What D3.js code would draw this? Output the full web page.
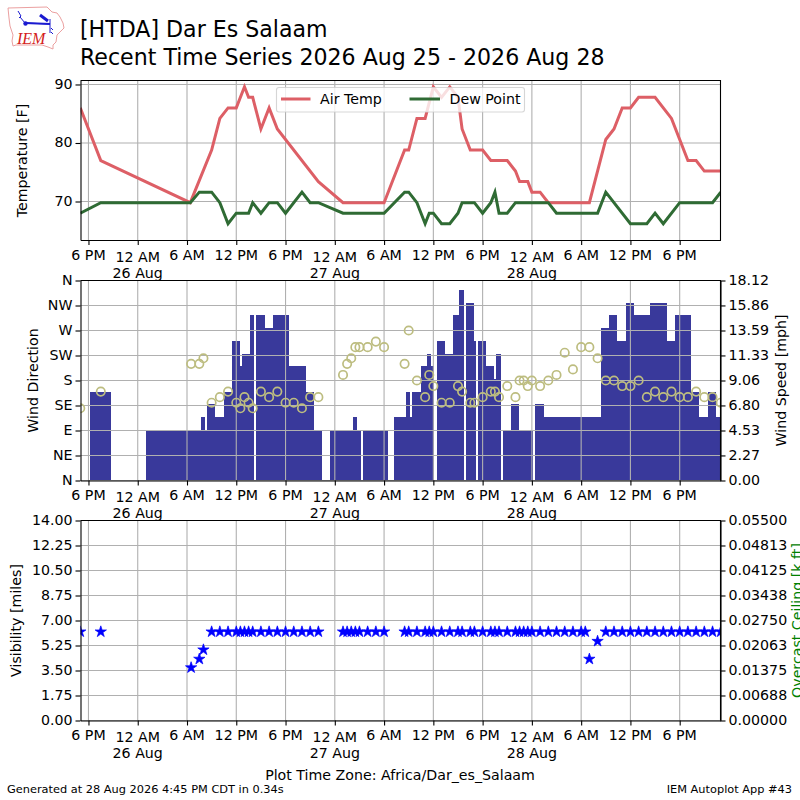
<!DOCTYPE html>
<html>
<head>
<meta charset="utf-8">
<script src="https://cdn.jsdelivr.net/npm/d3@7"></script>
<style>
  html, body { margin: 0; padding: 0; background: #fff; }
  text { font-family: "DejaVu Sans", sans-serif; fill: #000; }
</style>
</head>
<body>
<div id="chart"></div>
<script>
// every time below is hours after 00:00 on 25 Aug 2026, plot time zone
const tempTimes = [17,19.5,30.4,33,34,35,36,37,37.5,38,39,40,41,46,49,54,56.5,57,58,59,60,61,62,63,63.5,64.5,66,67,69,70,70.5,71.5,72,73,74,79,81,82,83,84,85,87,89,91,92,93,95]
const airTemp = [86,77,69.8,78.8,84.2,86,86,89.6,87.8,87.8,82.4,86,82.4,73.4,69.8,69.8,78.8,78.8,84.2,84.2,89.6,87.8,89.6,87.8,82.4,78.8,78.8,77,77,75.2,73.4,73.4,71.6,71.6,69.8,69.8,80.6,82.4,86,86,87.8,87.8,84.2,77,77,75.2,75.2]

const dewTimes = [17,19.5,30.4,31.5,33,34,35,36,37.5,38,39,40,41,42,44,45,46,49,54,56.5,57,58,59,59.5,60,61,62,63,63.5,65,66,67,67.5,68,69,70,74,75,80,81,84,86,87,88,90,94,95]
const dewPoint = [68,69.8,69.8,71.6,71.6,69.8,66.2,68,68,69.8,68,69.8,69.8,68,71.6,69.8,69.8,68,68,71.6,71.6,69.8,66.2,68,68,66.2,66.2,68,69.8,69.8,68,69.8,71.6,68,68,69.8,69.8,68,68,71.6,66.2,66.2,68,66.2,69.8,69.8,71.6]

const barStart = [18.18,25,31.7,32.19,32.43,33.41,34.5,35.48,36.45,36.7,37.67,38.4,39.5,40.47,42.42,44.49,45.46,47.41,50.2,50.7,51.43,55.21,56.67,57.16,57.4,58.5,59.23,59.72,60.45,61.42,62.4,63.13,63.98,64.95,65.44,66.41,67.39,67.63,68.48,69.46,70.43,72.38,73.48,80.42,81.4,82.37,83.47,84.44,86.39,88.46,89.43,91.38,92.36,93.45,94.43]
const barEnd = [20.74,31.7,32.19,32.43,33.41,34.5,35.48,36.45,36.7,37.67,38.16,39.5,40.47,42.42,44.49,45.46,46.44,50.2,50.7,51.19,54.48,56.67,57.16,57.4,58.5,59.23,59.72,60.02,61.42,62.4,63.13,63.74,64.95,65.2,66.41,67.39,67.63,68.24,69.46,70.43,72.14,73.48,80.42,81.4,82.37,83.47,84.44,86.39,88.46,89.43,91.38,92.36,93.45,94.43,95]
const windSpeed = [8.06,4.6,5.75,4.6,6.9,5.75,8.06,12.66,10.36,11.5,14.97,14.97,13.8,14.97,10.36,8.06,4.6,4.6,5.75,4.6,4.6,5.75,8.06,5.75,8.06,10.36,11.5,10.36,12.66,11.5,14.97,17.27,16.11,12.66,12.66,10.36,9.21,11.5,4.6,6.9,4.6,6.9,5.75,13.8,14.97,12.66,16.11,14.97,16.11,12.66,14.97,8.06,5.75,8.06,5.75]

const dirTimes = [17,19.5,30.5,31.5,32,33,34,35,36,36.5,37,37.5,38,39,40,41,42,43,44,45,46,49,49.5,50,50.5,51,52,53,54,56.5,57,58,59,59.5,60,61,62,63,63.5,64.5,65,66,67,67.5,68,69,70,70.5,71,71.5,72,73,74,75,76,77,78,79,80,81,82,83,84,85,86,87,88,89,90,91,92,93,94,95]
const windDir = [130,160,210,210,220,140,150,160,140,130,150,140,130,160,150,160,140,140,130,150,150,190,210,220,240,240,240,250,240,210,270,180,150,190,170,140,140,170,160,140,140,150,160,160,150,170,150,180,180,170,180,170,180,190,230,200,240,240,220,180,180,170,170,180,150,160,150,160,150,150,160,150,150,140]

const visTimes = [17,19.5,30.5,31.5,32,33,34,35,36,36.5,37,37.5,38,39,40,41,42,43,44,45,46,49,49.5,50,50.5,51,52,53,54,56.5,57,58,59,59.5,60,61,62,63,63.5,64.5,65,66,67,67.5,68,69,70,70.5,71,71.5,72,73,74,75,76,77,78,78.5,79,80,81,82,83,84,85,86,87,88,89,90,91,92,93,94,95]
const visibility = [6.21,6.21,3.7,4.3,4.95,6.21,6.21,6.21,6.21,6.21,6.21,6.21,6.21,6.21,6.21,6.21,6.21,6.21,6.21,6.21,6.21,6.21,6.21,6.21,6.21,6.21,6.21,6.21,6.21,6.21,6.21,6.21,6.21,6.21,6.21,6.21,6.21,6.21,6.21,6.21,6.21,6.21,6.21,6.21,6.21,6.21,6.21,6.21,6.21,6.21,6.21,6.21,6.21,6.21,6.21,6.21,6.21,6.21,4.3,5.55,6.21,6.21,6.21,6.21,6.21,6.21,6.21,6.21,6.21,6.21,6.21,6.21,6.21,6.21,6.21]

const timeTicks = [18,24,30,36,42,48,54,60,66,72,78,84,90]
const timeLabels = ['6 PM','12 AM','6 AM','12 PM','6 PM','12 AM','6 AM','12 PM','6 PM','12 AM','6 AM','12 PM','6 PM']
const dateLabels = {24: '26 Aug', 48: '27 Aug', 72: '28 Aug'}
const tempTicks = [70,80,90]
const dirTicks = [0,45,90,135,180,225,270,315,360]
const dirLabels = ['N','NE','E','SE','S','SW','W','NW','N']
const speedTicks = [0,2.27,4.53,6.8,9.06,11.33,13.59,15.86,18.12]
const visTicks = [0,1.75,3.5,5.25,7,8.75,10.5,12.25,14]
const ceilTicks = [0,0.00688,0.01375,0.02063,0.0275,0.03438,0.04125,0.04813,0.055]

const width = 800,
      height = 800,
      left = 80.5,
      right = 720.5,
      fontSize = 14.2

const svg = d3.select('#chart').append('svg')
              .attr('width', width)
              .attr('height', height)
              .style('display', 'block')

const xScale = d3.scaleLinear().domain([17.03, 94.97]).range([left, right])

const tempScale = d3.scaleLinear().domain([63.42, 90.68]).range([240, 80.5]),
      dirScale = d3.scaleLinear().domain([0, 360]).range([480.5, 280.5]),
      speedScale = d3.scaleLinear().domain([0, 18.12]).range([480.5, 280.5]),
      visScale = d3.scaleLinear().domain([0, 14]).range([720.5, 520.5]),
      ceilScale = d3.scaleLinear().domain([0, 0.055]).range([720.5, 520.5])

function styleAxis(g) {
  g.selectAll('path, line').attr('stroke', '#000').attr('stroke-width', 1.1)
  g.selectAll('text').attr('font-size', fontSize).attr('fill', '#000')
}

function panel(id, yScale, yTicks, yFormat) {
  const [bottom, top] = yScale.range()
  svg.append('clipPath').attr('id', 'clip-' + id)
     .append('rect')
     .attr('x', left).attr('y', top)
     .attr('width', right - left).attr('height', bottom - top)

  const back = svg.append('g').attr('class', 'back')
  const grid = svg.append('g').attr('class', 'grid')
  grid.selectAll('.gx').data(timeTicks).enter().append('line')
      .attr('x1', d => xScale(d)).attr('x2', d => xScale(d))
      .attr('y1', top).attr('y2', bottom)
  grid.selectAll('.gy').data(yTicks).enter().append('line')
      .attr('x1', left).attr('x2', right)
      .attr('y1', d => yScale(d)).attr('y2', d => yScale(d))
  grid.selectAll('line').attr('stroke', '#b0b0b0').attr('stroke-width', 1.1)

  const marks = svg.append('g').attr('clip-path', 'url(#clip-' + id + ')')

  const xAxis = d3.axisBottom(xScale)
                  .tickValues(timeTicks)
                  .tickSize(5)
                  .tickSizeOuter(0)
                  .tickFormat((d, i) => timeLabels[i])
  const gx = svg.append('g')
                .attr('transform', 'translate(0,' + bottom + ')')
                .call(xAxis)
  styleAxis(gx)
  gx.selectAll('.tick text')
    .attr('dy', null)
    .attr('x', -0.5)
    .attr('y', d => dateLabels[d] ? 21.5 : 19.5)
  gx.selectAll('.tick').filter(d => dateLabels[d])
    .append('text')
    .attr('x', -0.5)
    .attr('y', 37.5)
    .attr('text-anchor', 'middle')
    .attr('font-size', fontSize)
    .text(d => dateLabels[d])

  const gy = svg.append('g')
                .attr('transform', 'translate(' + left + ',0)')
                .call(d3.axisLeft(yScale).tickValues(yTicks).tickSize(5).tickSizeOuter(0).tickFormat(yFormat))
  styleAxis(gy)
  gy.selectAll('.tick text').attr('dy', '0.27em')

  // top and right frame lines
  svg.append('path')
     .attr('d', 'M' + left + ',' + top + 'H' + right + 'V' + bottom)
     .attr('fill', 'none').attr('stroke', '#000').attr('stroke-width', 1.1)
  return { back, marks }
}

function rightAxis(scale, ticks, format) {
  const g = svg.append('g')
               .attr('transform', 'translate(' + right + ',0)')
               .call(d3.axisRight(scale).tickValues(ticks).tickSize(5).tickSizeOuter(0).tickFormat(format))
  styleAxis(g)
  g.selectAll('.tick text').attr('dy', '0.27em')
}

function vLabel(text, x, y, color) {
  svg.append('text')
     .attr('transform', 'translate(' + x + ',' + y + ') rotate(-90)')
     .attr('text-anchor', 'middle')
     .attr('font-size', fontSize)
     .style('fill', color || '#000')
     .text(text)
}

// temperature
const p1 = panel('temp', tempScale, tempTicks, d => d)
const airLine = d3.line().x((d, i) => xScale(tempTimes[i])).y(d => tempScale(d))
const dewLine = d3.line().x((d, i) => xScale(dewTimes[i])).y(d => tempScale(d))
p1.marks.append('path').attr('d', airLine(airTemp))
        .attr('fill', 'none').attr('stroke', '#dd5f66').attr('stroke-width', 3)
p1.marks.append('path').attr('d', dewLine(dewPoint))
        .attr('fill', 'none').attr('stroke', '#2f6b34').attr('stroke-width', 3)
vLabel('Temperature [F]', 27, 160.5)

// legend
const legend = svg.append('g')
legend.append('rect')
      .attr('x', 276.5).attr('y', 87.5).attr('width', 248).attr('height', 24.5)
      .attr('rx', 2.5)
      .attr('fill', '#fff').attr('fill-opacity', 0.8)
      .attr('stroke', '#ccc').attr('stroke-opacity', 0.8).attr('stroke-width', 1.1)
legend.append('line').attr('x1', 281).attr('x2', 310.5).attr('y1', 99).attr('y2', 99)
      .attr('stroke', '#dd5f66').attr('stroke-width', 3)
legend.append('text').attr('x', 320).attr('y', 104).attr('font-size', fontSize).text('Air Temp')
legend.append('line').attr('x1', 409.5).attr('x2', 440).attr('y1', 99).attr('y2', 99)
      .attr('stroke', '#2f6b34').attr('stroke-width', 3)
legend.append('text').attr('x', 449.5).attr('y', 104).attr('font-size', fontSize).text('Dew Point')

// wind
const p2 = panel('wind', dirScale, dirTicks, (d, i) => dirLabels[i])
p2.back.attr('clip-path', 'url(#clip-wind)')
p2.back.selectAll('rect').data(windSpeed).enter().append('rect')
       .attr('x', (d, i) => xScale(barStart[i]))
       .attr('width', (d, i) => xScale(barEnd[i]) - xScale(barStart[i]))
       .attr('y', d => speedScale(d))
       .attr('height', d => speedScale(0) - speedScale(d))
       .attr('fill', '#39399b')
       .attr('shape-rendering', 'crispEdges')
p2.marks.selectAll('circle').data(windDir).enter().append('circle')
        .attr('cx', (d, i) => xScale(dirTimes[i]))
        .attr('cy', d => dirScale(d))
        .attr('r', 4.2)
        .attr('fill', 'none')
        .attr('stroke', '#bdbd80')
        .attr('stroke-width', 1.7)
rightAxis(speedScale, speedTicks, d => d.toFixed(2))
vLabel('Wind Direction', 38, 380.5)
vLabel('Wind Speed [mph]', 786, 380.5)

// visibility
const p3 = panel('vis', visScale, visTicks, d => d.toFixed(2))
const star = d3.symbol().type(d3.symbolStar).size(40)
p3.marks.selectAll('path').data(visibility).enter().append('path')
        .attr('d', star())
        .attr('transform', (d, i) => 'translate(' + xScale(visTimes[i]) + ',' + visScale(d) + ')')
        .attr('fill', '#0000ff')
        .attr('stroke', '#0000ff')
        .attr('stroke-width', 0.7)
rightAxis(ceilScale, ceilTicks, d => d.toFixed(5))
vLabel('Visibility [miles]', 21, 620.5)
vLabel('Overcast Ceiling [k ft]', 802, 620.5, '#008000')

// titles and footer
svg.append('text').attr('x', 80).attr('y', 37).attr('font-size', 22.1).text('[HTDA] Dar Es Salaam')
svg.append('text').attr('x', 80).attr('y', 64.5).attr('font-size', 22.1).text('Recent Time Series 2026 Aug 25 - 2026 Aug 28')
svg.append('text').attr('x', 400).attr('y', 780).attr('text-anchor', 'middle').attr('font-size', fontSize)
   .text('Plot Time Zone: Africa/Dar_es_Salaam')
svg.append('text').attr('x', 7).attr('y', 793).attr('font-size', 11.35)
   .text('Generated at 28 Aug 2026 4:45 PM CDT in 0.34s')
svg.append('text').attr('x', 792).attr('y', 793).attr('text-anchor', 'end').attr('font-size', 11.35)
   .text('IEM Autoplot App #43')

// logo
const logo = svg.append('g')
logo.append('path')
    .attr('d', 'M8,8L47,7L52,12L57,13L60,17L63,23L64,28L60,32L57,35L56,42L53,45L53,49L48,47L42,45L16,45L13,46L12,41L13,35L10,26L9,18Z')
    .attr('fill', 'none').attr('stroke', '#eba0a0').attr('stroke-width', 1)
logo.append('path')
    .attr('d', 'M18,11L21,16L19,18M20,17L25,23M25,23L50,24M50,19V33M51,28L53,30M51,32L53,34')
    .attr('fill', 'none').attr('stroke', '#1a1ad0').attr('stroke-width', 1)
logo.append('path').attr('d', 'M25,23L50,24').attr('stroke', '#1a1ad0').attr('stroke-width', 2)
logo.append('path').attr('d', 'M40,15L48,21').attr('stroke', '#1a1ad0').attr('stroke-width', 3)
logo.append('circle').attr('cx', 25.5).attr('cy', 23.5).attr('r', 2.2).attr('fill', '#1a1ad0')
logo.append('text').attr('x', 17).attr('y', 44).attr('font-size', 16)
    .attr('font-style', 'italic')
    .style('font-family', '"Liberation Serif", serif')
    .style('fill', '#d42020')
    .text('IEM')
</script>
</body>
</html>
